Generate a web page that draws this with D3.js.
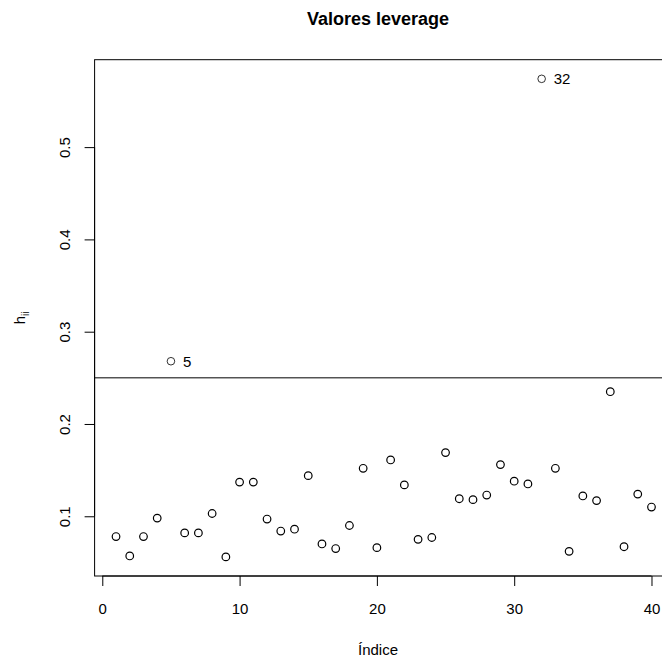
<!DOCTYPE html>
<html>
<head>
<meta charset="utf-8">
<script src="https://cdn.jsdelivr.net/npm/d3@7"></script>
<style>
  html, body { margin: 0; padding: 0; background: #fff; }
  svg { display: block; font-family: "Liberation Sans", Arial, Helvetica, sans-serif; }
</style>
</head>
<body>
<svg id="chart" width="662" height="659"></svg>
<script>
// Leverage (hat) values for each observation
const indices = d3.range(1, 41);
const leverage = [
  0.078, 0.057, 0.078, 0.098, 0.268, 0.082, 0.082, 0.103, 0.056, 0.137,
  0.137, 0.097, 0.084, 0.086, 0.144, 0.070, 0.065, 0.090, 0.152, 0.066,
  0.161, 0.134, 0.075, 0.077, 0.169, 0.119, 0.118, 0.123, 0.156, 0.138,
  0.135, 0.574, 0.152, 0.062, 0.122, 0.117, 0.235, 0.067, 0.124, 0.110
];
const cutoff = 0.25;
const flagged = [5, 32];
const xTicks = [0, 10, 20, 30, 40];
const yTicks = [0.1, 0.2, 0.3, 0.4, 0.5];
const title = "Valores leverage";
const xLabel = "Índice";

const svg = d3.select("#chart");
const plotLeft = 94.6, plotTop = 59.7, plotBottom = 576;

// R-style 4% padding around the data range
const xr = d3.extent(indices), yr = d3.extent(leverage);
const xPad = (xr[1] - xr[0]) * 0.04, yPad = (yr[1] - yr[0]) * 0.04;
const xDom = [xr[0] - xPad, xr[1] + xPad];
const yDom = [yr[0] - yPad, yr[1] + yPad];

const pxPerUnit = 13.73;
const plotRight = plotLeft + (xDom[1] - xDom[0]) * pxPerUnit;
const x = d3.scaleLinear().domain(xDom).range([plotLeft, plotRight]);
const y = d3.scaleLinear().domain(yDom).range([plotBottom, plotTop]);

const ink = "#000";

// plot box
svg.append("rect")
  .attr("x", plotLeft).attr("y", plotTop)
  .attr("width", plotRight - plotLeft).attr("height", plotBottom - plotTop)
  .attr("fill", "none").attr("stroke", ink).attr("stroke-width", 1);

// x axis
const xAxis = svg.append("g")
  .attr("transform", `translate(0,${plotBottom})`)
  .call(d3.axisBottom(x).tickValues(xTicks).tickSize(10).tickFormat(d3.format("d")));
xAxis.select(".domain").attr("d", `M${x(xTicks[0])},0H${x(xTicks[xTicks.length - 1])}`)
  .attr("stroke", ink);
xAxis.selectAll(".tick line").attr("stroke", ink);
xAxis.selectAll(".tick text").attr("font-size", 15).attr("fill", ink)
  .attr("font-family", "Liberation Sans, Arial, sans-serif")
  .attr("dy", null).attr("y", 38);

// y axis with rotated labels
const yAxis = svg.append("g")
  .attr("transform", `translate(${plotLeft},0)`)
  .call(d3.axisLeft(y).tickValues(yTicks).tickSize(10).tickFormat(d3.format(".1f")));
yAxis.select(".domain").attr("d", `M0,${y(yTicks[0])}V${y(yTicks[yTicks.length - 1])}`)
  .attr("stroke", ink);
yAxis.selectAll(".tick line").attr("stroke", ink);
yAxis.selectAll(".tick text")
  .attr("font-size", 15).attr("fill", ink)
  .attr("font-family", "Liberation Sans, Arial, sans-serif")
  .attr("x", null).attr("dy", null)
  .attr("text-anchor", "middle")
  .attr("transform", "translate(-25,0) rotate(-90)");

// cutoff reference line
svg.append("line")
  .attr("x1", plotLeft).attr("x2", plotRight)
  .attr("y1", y(cutoff)).attr("y2", y(cutoff))
  .attr("stroke", ink).attr("stroke-width", 1);

// points
const pts = indices.map((i, k) => ({ i, h: leverage[k] }));
svg.append("g").selectAll("circle").data(pts).join("circle")
  .attr("cx", d => x(d.i)).attr("cy", d => y(d.h))
  .attr("r", 3.8)
  .attr("fill", "none").attr("stroke", ink)
  .attr("stroke-width", d => flagged.includes(d.i) ? 0.8 : 1.2);

// labels for flagged observations
svg.append("g").selectAll("text").data(pts.filter(d => flagged.includes(d.i))).join("text")
  .attr("x", d => x(d.i) + 12).attr("y", d => y(d.h))
  .attr("dy", "0.36em")
  .attr("font-size", 15).attr("fill", ink)
  .text(d => d.i);

// titles
svg.append("text")
  .attr("x", 378).attr("y", 25)
  .attr("text-anchor", "middle").attr("font-weight", "bold").attr("font-size", 18)
  .text(title);

svg.append("text")
  .attr("x", 378).attr("y", 655)
  .attr("text-anchor", "middle").attr("font-size", 15)
  .text(xLabel);

const yl = svg.append("text")
  .attr("transform", `translate(25,${(plotTop + plotBottom) / 2}) rotate(-90)`)
  .attr("text-anchor", "middle").attr("font-size", 15);
yl.append("tspan").text("h");
yl.append("tspan").attr("font-size", 10).attr("dy", 4).text("ii");
</script>
</body>
</html>
